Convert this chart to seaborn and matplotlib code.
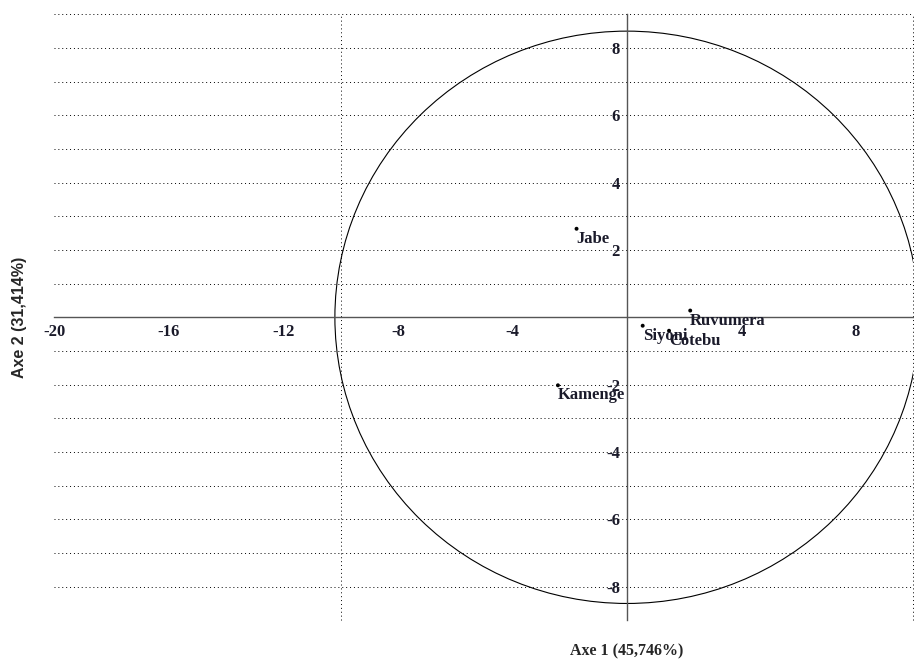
import matplotlib
matplotlib.use("Agg")
import matplotlib.pyplot as plt
import seaborn as sns
import pandas as pd
from matplotlib.patches import Ellipse

# Data
names = ["Jabe", "Ruvumera", "Siyoni", "Cotebu", "Kamenge"]
axe1 = [-1.76, 2.21, 0.55, 1.47, -2.41]
axe2 = [2.63, 0.20, -0.25, -0.40, -2.02]
xticks = [-20, -16, -12, -8, -4, 4, 8]
yticks = [-8, -6, -4, -2, 2, 4, 6, 8]
xlabel = "Axe 1 (45,746%)"
ylabel = "Axe 2 (31,414%)"

df = pd.DataFrame({"name": names, "x": axe1, "y": axe2})

sns.set_style("white")
plt.rcParams["font.family"] = ["Liberation Serif", "DejaVu Serif"]

fig = plt.figure(figsize=(9.14, 6.62), dpi=100)
ax = fig.add_axes([0.0594, 0.063, 0.9398, 0.9154])
ax.set_xlim(-20, 10)
ax.set_ylim(-9, 9)

# dotted grid
for yv in range(-8, 10):
    if yv == 0:
        continue
    ax.plot([-20, 10], [yv, yv], color="black", lw=0.7, ls=(0, (1, 3)), zorder=1)
for xv in [-10, 10]:
    ax.plot([xv, xv], [-9, 9], color="black", lw=0.7, ls=(0, (1, 3)), zorder=1, clip_on=False)

# circle
ax.add_patch(Ellipse((0, 0), width=2 * 10.2, height=2 * 8.5, fill=False,
                     edgecolor="black", lw=0.8, zorder=2))

sns.scatterplot(data=df, x="x", y="y", ax=ax, color="black", s=8,
                edgecolor="none", zorder=4, legend=False)
for _, r in df.iterrows():
    ax.text(r["x"], r["y"] - 0.06, r["name"], ha="left", va="top",
            fontsize=12, fontweight="bold", color="#1a1a2a", zorder=5)

for s in ["top", "right"]:
    ax.spines[s].set_visible(False)
ax.spines["left"].set_position(("data", 0))
ax.spines["bottom"].set_position(("data", 0))
for s in ["left", "bottom"]:
    ax.spines[s].set_color("#555555")
    ax.spines[s].set_linewidth(1.0)
    ax.spines[s].set_zorder(3)

ax.set_xticks(xticks)
ax.set_yticks(yticks)
ax.set_xticklabels([str(v) for v in xticks])
ax.set_yticklabels([str(v) for v in yticks])
ax.tick_params(axis="both", direction="out", length=4, width=0.8, color="#555555",
               labelsize=12, pad=1)
for lab in ax.get_xticklabels() + ax.get_yticklabels():
    lab.set_fontweight("bold")
    lab.set_color("#1a1a2a")
ax.set_xlabel("")
ax.set_ylabel("")

fig.text(0.6857, 0.004, xlabel, ha="center", va="bottom", fontsize=11.5,
         fontweight="bold", family=["Liberation Serif"])
fig.text(0.021, 0.52, ylabel, ha="center", va="center", rotation=90,
         fontsize=11.5, fontweight="bold", family=["Liberation Sans"])

fig.savefig("out.png", dpi=100)
